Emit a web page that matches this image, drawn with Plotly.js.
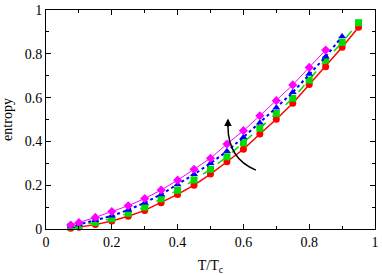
<!DOCTYPE html>
<html><head><meta charset="utf-8">
<script src="https://cdn.plot.ly/plotly-3.0.1.min.js"></script>
<style>html,body{margin:0;padding:0;background:#fff}#c{width:382px;height:275px}</style>
</head><body><div id="c"></div>
<script>
var xAll = [0.075,0.1,0.15,0.2,0.25,0.3,0.35,0.4,0.45,0.5,0.55,0.6,0.65,0.7,0.75,0.8,0.85,0.9,0.95];
var redS = [0.003,0.008,0.02,0.037,0.058,0.085,0.12,0.158,0.2,0.251,0.307,0.364,0.434,0.501,0.574,0.66,0.741,0.83,0.921];
var greenS = [0.01,0.015,0.03,0.047,0.072,0.1,0.138,0.177,0.224,0.273,0.33,0.394,0.46,0.528,0.597,0.68,0.772,0.852,0.942];
var blueS = [0.014,0.021,0.04,0.06,0.087,0.12,0.158,0.203,0.25,0.30,0.355,0.419,0.485,0.554,0.624,0.708,0.787,0.879];
var magS = [0.018,0.029,0.053,0.08,0.106,0.139,0.178,0.223,0.273,0.323,0.388,0.449,0.517,0.586,0.658,0.738,0.817];

function tr(y, color, dash, sym, size, w){
  return {x: xAll.slice(0, y.length), y: y, mode: 'lines+markers', type: 'scatter',
    line: {color: color, width: w, dash: dash},
    marker: {color: color, symbol: sym, size: size}, showlegend: false, cliponaxis: false};
}
var data = [
  tr(redS, '#ff0000', 'solid', 'circle', 7, 1.5),
  tr(greenS, '#00dd00', 'dash', 'square', 7, 1.5),
  tr(blueS, '#0000ff', 'dot', 'triangle-up', 7, 2),
  tr(magS, '#ff00ff', 'solid', 'diamond', 7, 1)
];
var font = {family: 'Liberation Serif', size: 14, color: '#000'};
var axisBase = {showgrid: false, zeroline: false, showline: true, linecolor: '#000', linewidth: 1,
  mirror: 'ticks', ticks: 'inside', ticklen: 5, tickcolor: '#000', tickfont: font,
  minor: {ticks: 'inside', ticklen: 3, tickcolor: '#000', dtick: 0.1}};
var layout = {
  width: 382, height: 275,
  margin: {l: 46, r: 7, t: 10, b: 46},
  paper_bgcolor: '#fff', plot_bgcolor: '#fff',
  font: font,
  xaxis: Object.assign({}, axisBase, {range: [0, 1], dtick: 0.2, tick0: 0,
    title: {text: 'T/T<sub>c</sub>', font: font, standoff: 12}}),
  yaxis: Object.assign({}, axisBase, {range: [0, 1], dtick: 0.2, tick0: 0,
    title: {text: 'entropy', font: font, standoff: 8}}),
  shapes: [{type: 'path', xref: 'x', yref: 'y',
    path: 'M 0.638,0.269 Q 0.553,0.32 0.553,0.47',
    line: {color: '#000', width: 1.5}}],
  annotations: [{x: 0.553, y: 0.505, ax: 0.553, ay: 0.46, xref: 'x', yref: 'y', axref: 'x', ayref: 'y',
    text: '', showarrow: true, arrowhead: 2, arrowsize: 1, arrowwidth: 1.5, arrowcolor: '#000'}]
};
Plotly.newPlot('c', data, layout, {displayModeBar: false, staticPlot: true});
</script></body></html>
